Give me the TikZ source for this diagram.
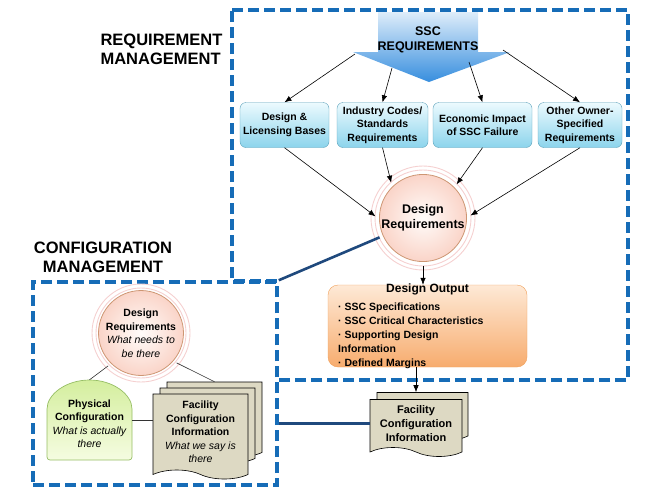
\documentclass[tikz,border=0pt]{standalone}
\usepackage{fontspec}
\setmainfont{Liberation Sans}
\usepackage{xcolor}
\usetikzlibrary{arrows.meta,positioning,shapes,shapes.symbols,calc}

\definecolor{mgmtblue}{RGB}{22,108,183}
\definecolor{linkblue}{RGB}{31,73,125}
\definecolor{ssctop}{RGB}{222,237,250}
\definecolor{sscbot}{RGB}{55,142,222}
\definecolor{cyantop}{RGB}{236,250,254}
\definecolor{cyanbot}{RGB}{140,212,236}
\definecolor{cyanedge}{RGB}{90,160,185}
\definecolor{circin}{RGB}{255,252,250}
\definecolor{circout}{RGB}{250,212,200}
\definecolor{circedge}{RGB}{205,150,115}
\definecolor{halopink}{RGB}{245,208,208}
\definecolor{outtop}{RGB}{254,233,214}
\definecolor{outbot}{RGB}{247,172,110}
\definecolor{outedge}{RGB}{240,160,90}
\definecolor{greentop}{RGB}{212,238,158}
\definecolor{greenbot}{RGB}{245,252,225}
\definecolor{greenedge}{RGB}{150,190,100}
\definecolor{docfill}{RGB}{221,217,195}

\tikzset{
  mgmtline/.style={draw=mgmtblue, line width=3.5pt, dash pattern=on 11pt off 5pt},
  mgmtlabel/.style={font=\bfseries\fontsize{16.5}{19}\selectfont},
  reqbox/.style={rectangle, rounded corners=6pt, draw=cyanedge, top color=cyantop, bottom color=cyanbot,
    minimum height=45pt, inner sep=1pt, align=center, font=\bfseries\fontsize{10.5}{13.5}\selectfont},
  reqcircle/.style={circle, draw=circedge, line width=0.8pt, inner color=circin, outer color=circout,
    minimum size=86pt, inner sep=0pt, outer sep=4pt, align=center},
  halo/.style={draw=halopink, line width=0.9pt},
  outbox/.style={rectangle, rounded corners=10pt, draw=outedge, top color=outtop, bottom color=outbot,
    minimum width=199pt, minimum height=82pt},
  docpage/.style={tape, tape bend top=none, tape bend bottom=out and in, tape bend height=9pt,
    draw=black, line width=0.6pt, fill=docfill, inner sep=1pt, align=center,
    font=\bfseries\fontsize{11}{14}\selectfont},
  arr/.style={-{Latex[length=7pt,width=5.5pt]}, line width=0.6pt},
  thinline/.style={draw=black!80, line width=0.6pt},
  link/.style={draw=linkblue, line width=2.6pt}
}

\begin{document}
\begin{tikzpicture}[x=1pt, y=-1pt]
\useasboundingbox (0,0) rectangle (650,493);

% the two managed areas
\draw[mgmtline] (232,10) -- (628,10) -- (628,380) -- (277,380) -- (277,281) -- (232,281) -- cycle;
\node[mgmtline, minimum width=244pt, minimum height=203pt] (cmbox) at (155,383.5) {};
\node[mgmtlabel, anchor=west, align=left] (rmtitle) at (97,49) {REQUIREMENT\\MANAGEMENT};
\node[mgmtlabel, align=center] (cmtitle) at (103,257) {CONFIGURATION\\MANAGEMENT};

% SSC requirements arrow
\path[top color=ssctop, bottom color=sscbot] (378,12) -- (478,12) -- (478,52) -- (510,52) -- (429,82) -- (353,52) -- (378,52) -- cycle;
\node[font=\bfseries\fontsize{12.5}{15}\selectfont, align=center] (ssc) at (428,40) {SSC\\REQUIREMENTS};
\coordinate (ssc1) at (355,54);
\coordinate (ssc2) at (392,68);
\coordinate (ssc3) at (469,62);
\coordinate (ssc4) at (503,50);

\node[reqbox, minimum width=89pt] (dlb) at (284.5,125) {Design \&\\Licensing Bases};
\node[reqbox, minimum width=91pt] (ics) at (382.5,125) {Industry Codes/\\Standards\\Requirements};
\node[reqbox, minimum width=99pt] (eis) at (482.5,125) {Economic Impact\\of SSC Failure};
\node[reqbox, minimum width=84pt] (oos) at (580,125) {Other Owner-\\Specified\\Requirements};

\draw[arr] (ssc1) -- (dlb.north);
\draw[arr] (ssc2) -- (ics.north);
\draw[arr] (ssc3) -- (eis.north);
\draw[arr] (ssc4) -- (oos.north);

% design requirements
\draw[halo] (423,218) circle (48) (423,218) circle (52);
\node[reqcircle, font=\bfseries\fontsize{12.5}{14.5}\selectfont] (dreq) at (423,218) {Design\\Requirements};
\draw[arr] (dlb.south) -- (dreq.178);
\draw[arr] (ics.south) -- (dreq.132);
\draw[arr] (eis.south) -- (dreq.45);
\draw[arr] (oos.south) -- (dreq.3);

% design output
\node[outbox] (dout) at (427.5,326) {};
\node[font=\bfseries\fontsize{12}{14}\selectfont] (douttitle) at (427.5,289) {Design Output};
\node[anchor=north west, align=left, inner sep=0pt, font=\bfseries\fontsize{10.5}{14}\selectfont] (doutlist) at (338,303)
  {· SSC Specifications\\· SSC Critical Characteristics\\· Supporting Design\\Information\\· Defined Margins};
\draw[arr] (dreq.south) -- (dreq.south |- dout.north);

% facility configuration information
\node[docpage, minimum width=91pt, minimum height=48pt] (fcib) at (422.5,412) {};
\node[docpage, minimum width=92pt, minimum height=57pt] (fci) at (416,423.5) {Facility\\Configuration\\Information};
\draw[arr] (fci.north |- dout.south) -- (fci.north |- fcib.north);

% configuration management triangle
\draw[halo] (141,333) circle (45) (141,333) circle (49);
\node[reqcircle, minimum size=80pt, font=\bfseries\fontsize{10.5}{13.5}\selectfont] (dreq2) at (141,333)
  {Design\\Requirements\\{\mdseries\itshape What needs to}\\{\mdseries\itshape be there}};
\draw[draw=greenedge, line width=0.7pt, top color=greentop, bottom color=greenbot, rounded corners=3pt]
  (47,460) -- (47,412) arc[start angle=180, end angle=360, x radius=42.5, y radius=32] -- (132,460) -- cycle;
\node[minimum width=85pt, minimum height=80pt, inner sep=0pt, align=center, font=\bfseries\fontsize{10.5}{13.5}\selectfont] (phys) at (89.5,420)
  {\\[2pt]Physical\\Configuration\\{\mdseries\itshape What is actually}\\{\mdseries\itshape there}};
\node[docpage, minimum width=95pt, minimum height=75pt] (fcia2) at (214.5,415) {};
\node[docpage, minimum width=95pt, minimum height=75pt] (fcib2) at (207.5,421) {};
\node[docpage, minimum width=95pt, minimum height=85pt, font=\bfseries\fontsize{10.5}{13.5}\selectfont] (fci2) at (200.5,432)
  {Facility\\Configuration\\Information\\{\mdseries\itshape What we say is}\\{\mdseries\itshape there}};
\draw[thinline] (dreq2.225) -- (phys.north);
\draw[thinline] (dreq2.-40) -- (fcia2.north);
\draw[thinline] (phys.east) -- (phys.east -| fci2.west);

% links between the areas
\draw[link] (dreq.204) -- (cmbox.north east);
\draw[link] (fci.west) -- (fci.west -| cmbox.east);
\end{tikzpicture}
\end{document}
